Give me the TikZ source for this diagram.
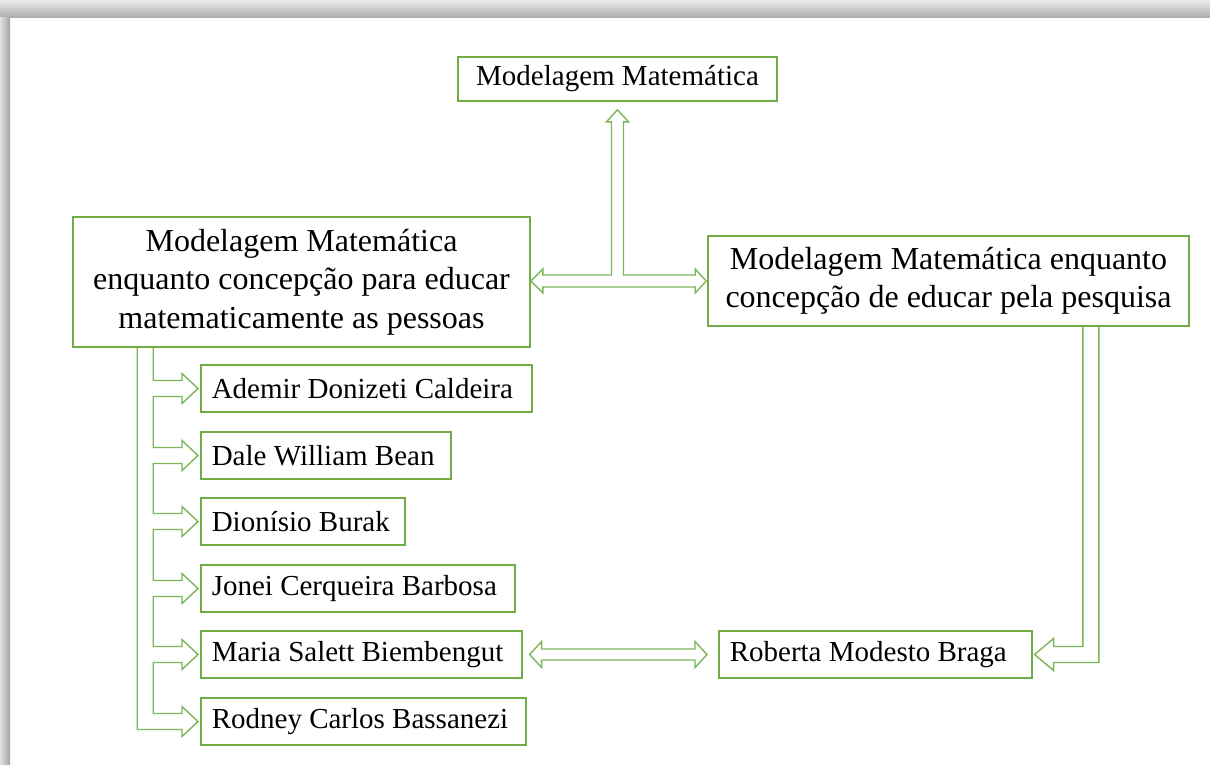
\documentclass[tikz,border=0pt]{standalone}
\usepackage{fontspec}
\setmainfont{Liberation Serif}
\usetikzlibrary{calc}
\definecolor{boxgreen}{HTML}{70AD47}
\definecolor{arrgreen}{HTML}{7DB65A}
\begin{document}
\begin{tikzpicture}[x=1pt,y=-1pt,
  box/.style={draw=boxgreen, line width=1.6pt, fill=white, inner sep=0pt, text=black},
  namebox/.style={box, anchor=west, minimum height=47pt, inner xsep=11pt, align=flush left, font=\fontsize{29}{34}\selectfont},
  bigbox/.style={box, font=\fontsize{32}{38.5}\selectfont, align=center},
  arrowline/.style={draw=arrgreen, line width=1.4pt, line join=miter}]
\useasboundingbox (0,0) rectangle (1210,764);
\fill[white] (0,0) rectangle (1210,764);
\shade[top color=black!8, bottom color=black!32] (0,0) rectangle (1210,17);
\shade[left color=black!12, right color=black!36] (0,17) rectangle (10,764);

\node[box, minimum width=319pt, minimum height=44pt, font=\fontsize{29}{34}\selectfont] (T) at (617.5,79) {Modelagem Matemática};
\node[bigbox, minimum width=457pt, minimum height=130pt] (L) at (301.5,282) {Modelagem Matemática\\enquanto concepção para educar\\matematicamente as pessoas};
\node[bigbox, minimum width=481pt, minimum height=90pt] (R) at (948.5,281) {Modelagem Matemática enquanto\\concepção de educar pela pesquisa};

\node[namebox, text width=309pt] (ad) at (200,388.5) {Ademir Donizeti Caldeira};
\node[namebox, text width=228pt] (da) at (200,455.5) {Dale William Bean};
\node[namebox, text width=182pt] (di) at (200,521.5) {Dionísio Burak};
\node[namebox, text width=292pt] (jo) at (200,588.5) {Jonei Cerqueira Barbosa};
\node[namebox, text width=299pt] (ma) at (200,654.5) {Maria Salett Biembengut};
\node[namebox, text width=303pt] (ro) at (200,721.5) {Rodney Carlos Bassanezi};
\node[namebox, text width=291pt] (rb) at (718,654.5) {Roberta Modesto Braga};

% T-shaped arrow
\coordinate (tl) at (L.east |- R.west);
\coordinate (tr) at ($(R.west)+(-1,0)$);
\coordinate (tt) at ($(T.south)+(0,8)$);
\draw[arrowline] (tl) -- ++(12,-12) -- ++(0,6) -- ($(tt |- tl)+(-6,-6)$) -- ($(tt)+(-6,12)$) -- ++(-5,0) -- (tt) -- ++(11,12) -- ++(-5,0) -- ($(tt |- tl)+(6,-6)$) -- ($(tr)+(-11,-6)$) -- ++(0,-6) -- (tr) -- ++(-11,12) -- ++(0,-6) -- ($(tl)+(12,6)$) -- ++(0,6) -- cycle;

% double arrow Maria <-> Roberta
\coordinate (bl) at ($(ma.east)+(7,0)$);
\coordinate (br) at ($(rb.west)+(-11,0)$);
\draw[arrowline] (bl) -- ++(12,-13) -- ++(0,7.5) -- ($(br)+(-12,-5.5)$) -- ++(0,-7.5) -- (br) -- ++(-12,13) -- ++(0,-7.5) -- ($(bl)+(12,5.5)$) -- ++(0,7.5) -- cycle;

% elbow arrow from right box to Roberta
\coordinate (ea) at ($(R.south east)+(-107,0)$);
\coordinate (eb) at ($(R.south east)+(-91,0)$);
\coordinate (et) at ($(rb.east)+(2,0)$);
\draw[arrowline] (ea) -- ($(ea |- et)+(0,-8)$) -- ($(et)+(19,-8)$) -- ($(et)+(19,-16)$) -- (et) -- ($(et)+(19,16)$) -- ($(et)+(19,8)$) -- ($(eb |- et)+(0,8)$) -- (eb);

% comb from left box to names
\coordinate (ci) at ($(L.south west)+(81,0)$);
\coordinate (co) at ($(L.south west)+(65,0)$);
\draw[arrowline] (ci)
  \foreach \n in {ad,da,di,jo,ma} {
    -- ($(ci |- \n.west)+(0,-8)$) -- ($(\n.west)+(-18,-8)$) -- ($(\n.west)+(-18,-15)$) -- ($(\n.west)+(-2,0)$) -- ($(\n.west)+(-18,15)$) -- ($(\n.west)+(-18,8)$) -- ($(ci |- \n.west)+(0,8)$)
  }
  -- ($(ci |- ro.west)+(0,-8)$) -- ($(ro.west)+(-18,-8)$) -- ($(ro.west)+(-18,-15)$) -- ($(ro.west)+(-2,0)$) -- ($(ro.west)+(-18,15)$) -- ($(ro.west)+(-18,8)$) -- ($(co |- ro.west)+(0,8)$) -- (co);
\end{tikzpicture}
\end{document}
